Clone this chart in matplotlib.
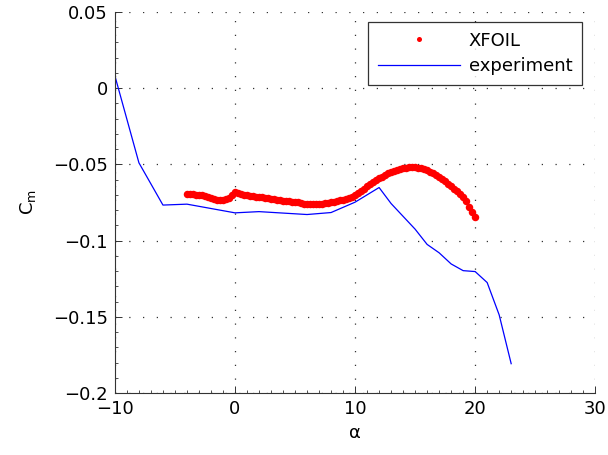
import matplotlib
matplotlib.use('Agg')
import matplotlib.pyplot as plt
from matplotlib.ticker import MultipleLocator

plt.rcParams['font.family'] = ['DejaVu Sans']
plt.rcParams['mathtext.fontset'] = 'dejavusans'

# experiment
exp_alpha = [-10, -8, -6, -4, 0, 2, 6, 8, 10, 12, 13, 15, 16, 17, 18, 19, 20, 21, 22, 23]
exp_cm = [0.008, -0.049, -0.0767, -0.0761, -0.0818, -0.081, -0.0829, -0.0816, -0.0748,
          -0.0652, -0.0757, -0.0925, -0.1025, -0.108, -0.1153, -0.1197, -0.1203,
          -0.1275, -0.1487, -0.1807]

# XFOIL, alpha -4..20 step 0.25
xf_alpha = [-4.0, -3.75, -3.5, -3.25, -3.0, -2.75, -2.5, -2.25, -2.0, -1.75, -1.5, -1.25,
            -1.0, -0.75, -0.5, -0.25, 0.0, 0.25, 0.5, 0.75, 1.0, 1.25, 1.5, 1.75,
            2.0, 2.25, 2.5, 2.75, 3.0, 3.25, 3.5, 3.75, 4.0, 4.25, 4.5, 4.75,
            5.0, 5.25, 5.5, 5.75, 6.0, 6.25, 6.5, 6.75, 7.0, 7.25, 7.5, 7.75,
            8.0, 8.25, 8.5, 8.75, 9.0, 9.25, 9.5, 9.75, 10.0, 10.25, 10.5, 10.75,
            11.0, 11.25, 11.5, 11.75, 12.0, 12.25, 12.5, 12.75, 13.0, 13.25, 13.5, 13.75,
            14.0, 14.25, 14.5, 14.75, 15.0, 15.25, 15.5, 15.75, 16.0, 16.25, 16.5, 16.75,
            17.0, 17.25, 17.5, 17.75, 18.0, 18.25, 18.5, 18.75, 19.0, 19.25, 19.5, 19.75, 20.0]
xf_cm = [-0.0695, -0.0696, -0.0697, -0.0699, -0.0701, -0.0704, -0.0708, -0.0713,
         -0.0718, -0.0725, -0.0731, -0.0734, -0.0734, -0.0730, -0.0721, -0.0703,
         -0.0680, -0.0686, -0.0693, -0.0698, -0.0702, -0.0705, -0.0708, -0.0711,
         -0.0714, -0.0717, -0.0720, -0.0723, -0.0726, -0.0729, -0.0732, -0.0735,
         -0.0738, -0.0740, -0.0743, -0.0745, -0.0748, -0.0750, -0.0756, -0.0758,
         -0.0759, -0.0760, -0.0760, -0.0760, -0.0759, -0.0758, -0.0756, -0.0753,
         -0.0750, -0.0746, -0.0742, -0.0737, -0.0732, -0.0726, -0.0719, -0.0711,
         -0.0700, -0.0689, -0.0676, -0.0661, -0.0645, -0.0630, -0.0616, -0.0603,
         -0.0591, -0.0580, -0.0569, -0.0559, -0.0550, -0.0542, -0.0535, -0.0529,
         -0.0525, -0.0521, -0.0519, -0.0518, -0.0519, -0.0523, -0.0527, -0.0533,
         -0.0540, -0.0549, -0.0559, -0.0570, -0.0582, -0.0596, -0.0611, -0.0627,
         -0.0643, -0.0660, -0.0678, -0.0697, -0.0717, -0.0740, -0.0780, -0.0815, -0.0845]

xticks = [-10, 0, 10, 20, 30]
yticks = [-0.2, -0.15, -0.1, -0.05, 0, 0.05]
ytick_labels = ['\u22120.2', '\u22120.15', '\u22120.1', '\u22120.05', '0', '0.05']
xtick_labels = ['\u221210', '0', '10', '20', '30']

fig = plt.figure(figsize=(6.08, 4.55), dpi=100)
ax = fig.add_axes([0.189, 0.136, 0.79, 0.838])

ax.plot(xf_alpha, xf_cm, 'o', color='red', markersize=5.4, markeredgewidth=0,
        label='XFOIL', zorder=3)
ax.plot(exp_alpha, exp_cm, '-', color='blue', linewidth=0.9, label='experiment', zorder=2)

ax.set_xlim(-10, 30)
ax.set_ylim(-0.2, 0.05)
ax.set_xticks(xticks)
ax.set_xticklabels(xtick_labels)
ax.set_yticks(yticks)
ax.set_yticklabels(ytick_labels)
ax.xaxis.set_minor_locator(MultipleLocator(1))
ax.yaxis.set_minor_locator(MultipleLocator(0.01))
ax.tick_params(which='both', direction='in', labelsize=13, color='#333333')
ax.tick_params(which='major', length=5, width=0.7, pad=5)
ax.tick_params(which='minor', length=2.5, width=0.6)

ax.grid(True, which='major', linestyle=(0, (1, 10)), linewidth=0.9, color='#333333')
ax.spines['top'].set_visible(False)
ax.spines['right'].set_visible(False)
for s in ['left', 'bottom']:
    ax.spines[s].set_linewidth(0.8)
    ax.spines[s].set_color('#333333')

ax.set_xlabel('\u03b1', fontsize=13, labelpad=4)
ax.set_ylabel('$\\mathrm{C_m}$', fontsize=13, labelpad=11)

leg = ax.legend(loc='upper right', bbox_to_anchor=(0.973, 0.974), borderaxespad=0,
                fontsize=13, frameon=True, fancybox=False, borderpad=0.55,
                handlelength=4.5, handletextpad=0.5, labelspacing=0.4,
                markerscale=0.67)
leg.get_frame().set_edgecolor('black')
leg.get_frame().set_linewidth(0.9)

fig.savefig('out.png', dpi=100)
